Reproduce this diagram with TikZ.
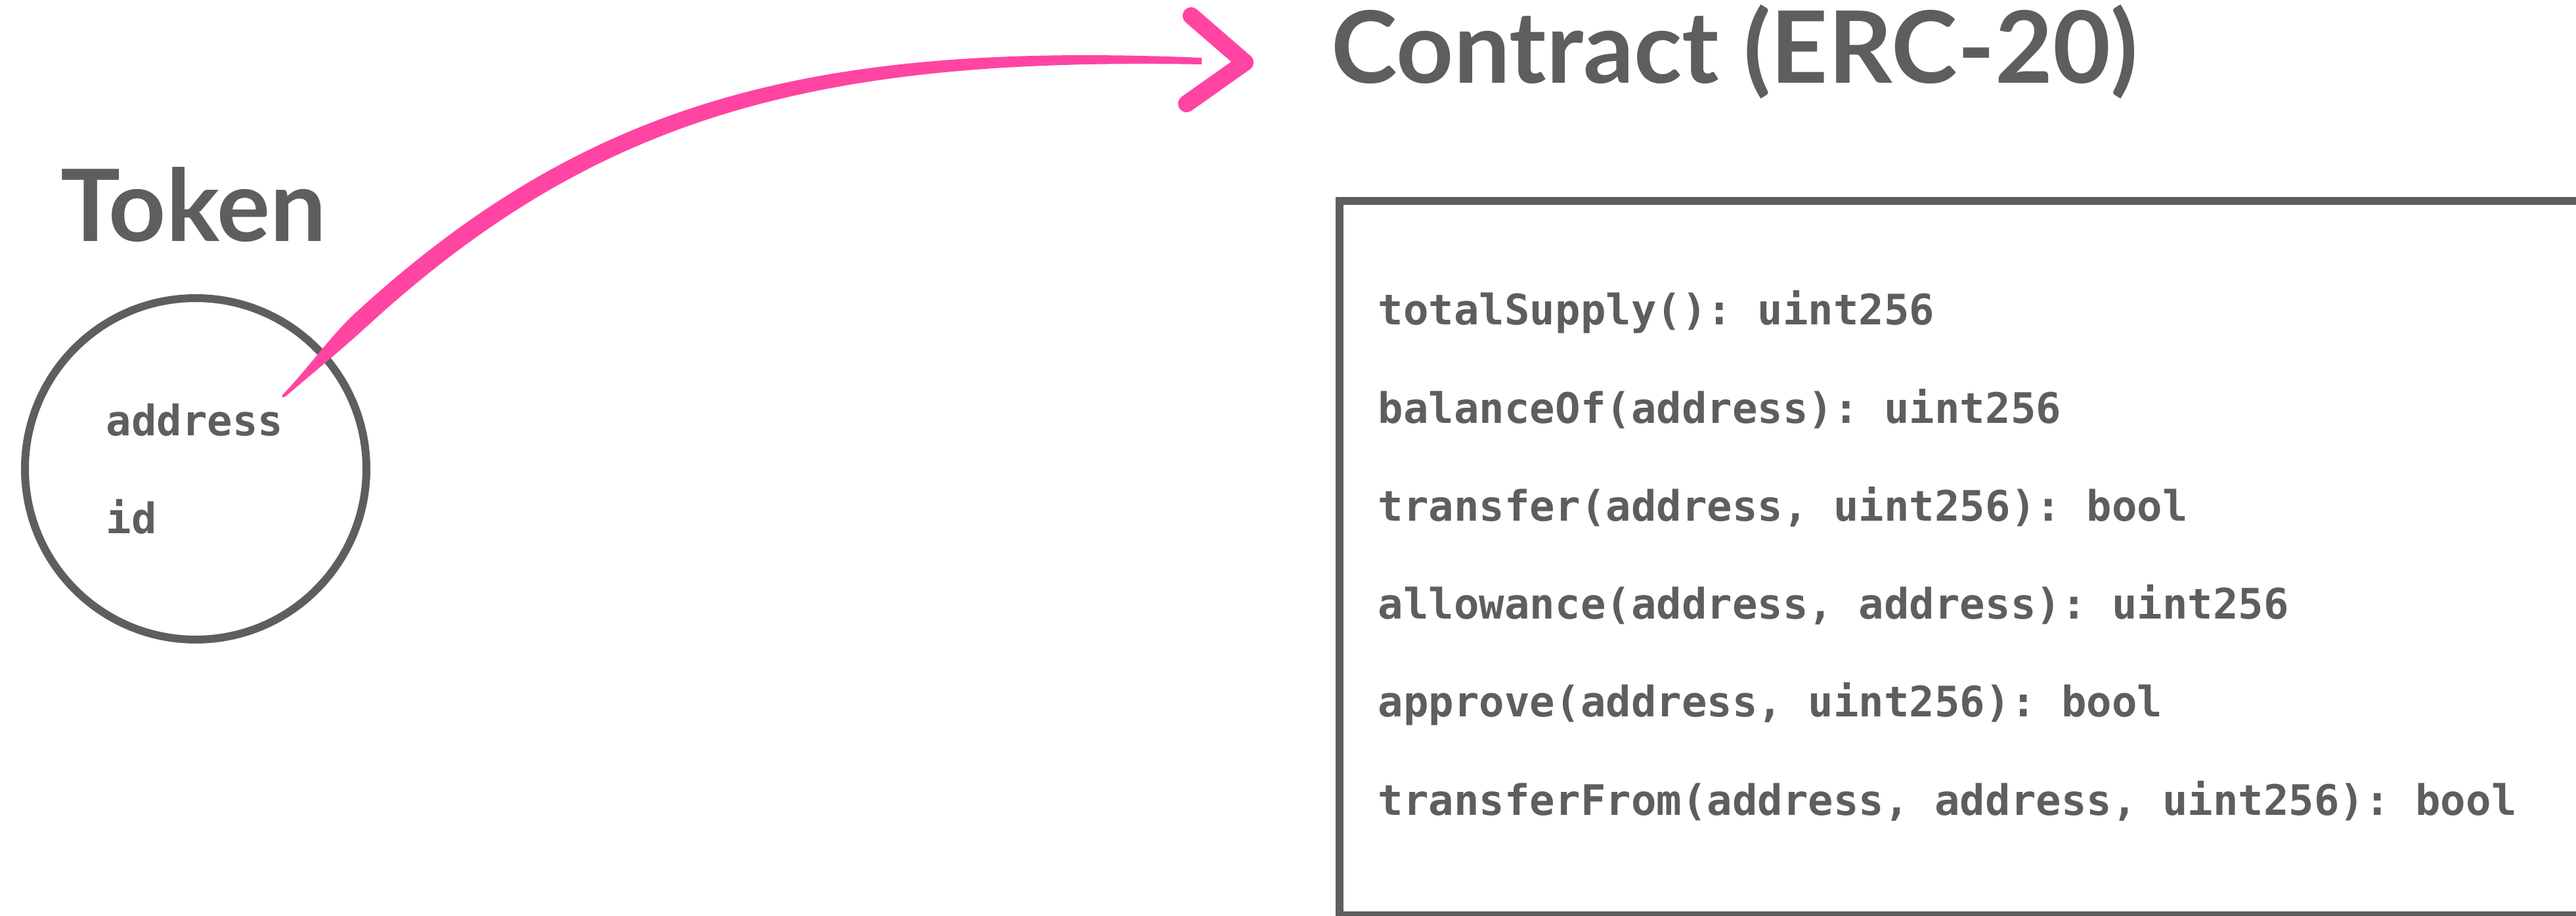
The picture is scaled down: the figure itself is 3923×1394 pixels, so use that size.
\documentclass[tikz,border=0pt]{standalone}
\usepackage{fontspec}
\setmainfont{Lato}
\setmonofont{DejaVu Sans Mono}
\definecolor{ink}{HTML}{5E5E5E}
\definecolor{brush}{HTML}{FF44A2}

\begin{document}
\begin{tikzpicture}[x=0.25pt,y=-0.25pt,
  heading/.style={inner sep=0, anchor=base west, text=ink,
    font=\fontsize{38}{40}\selectfont\bfseries},
  code/.style={inner sep=0, anchor=base west, text=ink,
    font=\fontsize{16}{18}\selectfont\ttfamily\bfseries},
  outline/.style={draw=ink, line width=3pt},
  stroke/.style={fill=brush, draw=none}]
\useasboundingbox (0,0) rectangle (3923,1394);
\clip (0,0) rectangle (3923,1394);

% Token
\node[heading] (tokentitle) at (92,367) {Token};
\node[outline, circle, inner sep=0, minimum size=130pt] (token) at (298,714) {};
\node[code] (addr) at (161,663) {address};
\node[code] (idf) at (161,812) {id};

% Contract
\node[heading] (contracttitle) at (2027,126) {Contract (ERC-20)};
\node[outline, rectangle, inner sep=0, anchor=north west,
      minimum width=481.5pt, minimum height=272pt] (box) at (2034,300) {};
\node[code] (f1) at (2098,494) {totalSupply(): uint256};
\node[code] (f2) at (2098,644) {balanceOf(address): uint256};
\node[code] (f3) at (2098,793) {transfer(address, uint256): bool};
\node[code] (f4) at (2098,942) {allowance(address, address): uint256};
\node[code] (f5) at (2098,1091) {approve(address, uint256): bool};
\node[code] (f6) at (2098,1241) {transferFrom(address, address, uint256): bool};

% brush-stroke arrow from the address field to the contract:
% a short tapered tail, then a body of even width that thins at the end
\coordinate (tail) at (431.2,600.3);
\coordinate (head) at (1896,95);
\fill[stroke] (tail)
  .. controls (471,559) and (503.4,511.2) .. (542.7,475.2)
  .. controls (898.8,149.3) and (1243.7,63.4) .. (1830,88)
  -- (1830,98)
  .. controls (1246.3,87.5) and (912,173.8) .. (560.9,495.1)
  .. controls (521.6,531.1) and (479,566) .. (434.8,603.7)
  .. controls (431,607) and (427,604) .. (tail) -- cycle;
\draw[brush, line width=6.5pt, line cap=round, line join=round]
  (1814,24) -- (head) -- (1807,158);
\end{tikzpicture}
\end{document}
